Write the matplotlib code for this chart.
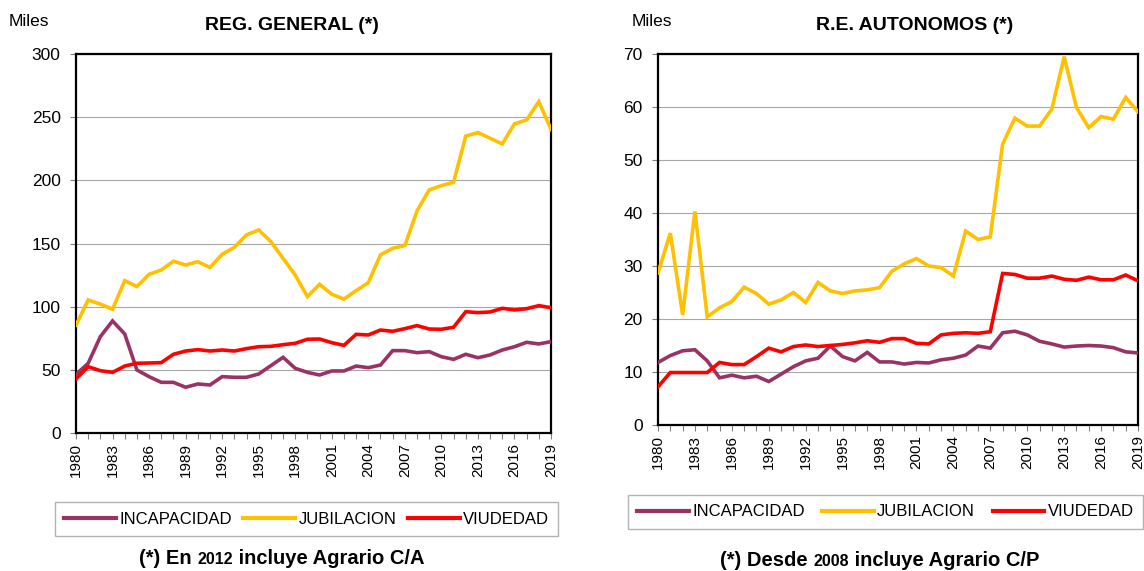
import numpy as np
import matplotlib
matplotlib.use('Agg')
import matplotlib.pyplot as plt

plt.rcParams['font.family'] = ['Liberation Sans', 'DejaVu Sans']

years = list(range(1980, 2020))
series_names = ['INCAPACIDAD', 'JUBILACION', 'VIUDEDAD']
colors = ['#993366', '#FFC000', '#FF0000']

# REG. GENERAL (miles)
incap_gen = [46.4, 55.2, 76.3, 88.7, 78.4, 49.9, 44.6, 40.1, 40.1, 36.2,
             38.8, 38.0, 44.6, 44.1, 44.1, 46.7, 53.3, 59.9, 51.2, 48.0,
             45.9, 49.1, 49.1, 53.0, 51.7, 53.8, 65.2, 65.2, 63.6, 64.4,
             60.4, 58.3, 62.3, 59.6, 61.8, 65.7, 68.3, 71.8, 70.5, 72.3]
jub_gen = [85.5, 105.3, 102.0, 98.0, 120.6, 115.9, 125.6, 129.0, 136.0, 133.0,
           135.6, 131.0, 141.5, 147.0, 156.8, 160.7, 151.5, 138.3, 125.0, 108.0,
           117.7, 109.8, 106.0, 112.7, 119.0, 141.0, 146.2, 148.3, 175.8, 192.4,
           195.8, 198.5, 235.0, 237.8, 233.3, 228.8, 244.7, 247.8, 262.3, 240.4]
viud_gen = [42.8, 52.5, 49.3, 48.0, 53.0, 55.2, 55.4, 55.7, 62.3, 64.9,
            66.0, 64.9, 65.7, 64.9, 66.8, 68.3, 68.6, 69.9, 71.0, 74.2,
            74.4, 71.5, 69.4, 78.1, 77.6, 81.5, 80.5, 82.6, 85.0, 82.3,
            82.1, 83.7, 96.0, 95.3, 95.8, 98.7, 97.4, 98.4, 100.8, 99.2]

# R.E. AUTONOMOS (miles)
incap_aut = [11.8, 13.1, 14.0, 14.2, 12.1, 8.9, 9.4, 8.9, 9.2, 8.2,
             9.6, 11.0, 12.1, 12.6, 14.9, 12.9, 12.1, 13.7, 11.9, 11.9,
             11.5, 11.8, 11.7, 12.3, 12.6, 13.2, 14.9, 14.5, 17.4, 17.7,
             17.0, 15.8, 15.3, 14.7, 14.9, 15.0, 14.9, 14.6, 13.8, 13.6]
jub_aut = [28.7, 36.2, 20.8, 40.3, 20.4, 22.1, 23.3, 26.0, 24.8, 22.8,
           23.6, 25.0, 23.1, 26.9, 25.3, 24.8, 25.3, 25.5, 25.9, 29.0,
           30.4, 31.4, 30.0, 29.7, 28.1, 36.6, 35.0, 35.5, 53.0, 57.9,
           56.4, 56.4, 59.6, 69.5, 59.9, 56.1, 58.2, 57.7, 61.8, 59.1]
viud_aut = [7.2, 9.9, 9.9, 9.9, 9.9, 11.8, 11.4, 11.4, 12.9, 14.5,
            13.8, 14.8, 15.1, 14.8, 15.0, 15.2, 15.5, 15.9, 15.6, 16.3,
            16.3, 15.4, 15.3, 17.0, 17.3, 17.4, 17.3, 17.6, 28.6, 28.4,
            27.7, 27.7, 28.1, 27.5, 27.3, 27.9, 27.4, 27.4, 28.3, 27.2]

W, H = 1144, 571


def px_box(x0, y0, x1, y1):
    return [x0 / W, 1 - y1 / H, (x1 - x0) / W, (y1 - y0) / H]


def draw_panel(ax, data, ymax, ystep):
    lines = []
    for vals, name, c in zip(data, series_names, colors):
        l, = ax.plot(years, vals, color=c, lw=2.6, label=name,
                     solid_joinstyle='miter', zorder=3)
        lines.append(l)
    ax.set_xlim(1980, 2019)
    ax.set_ylim(0, ymax)
    ax.set_yticks(np.arange(0, ymax + 1, ystep))
    ax.set_xticks(years)
    ax.set_xticklabels([str(y) if (y - 1980) % 3 == 0 else '' for y in years],
                       rotation=90, fontsize=11)
    ax.tick_params(axis='y', labelsize=12.5, length=4, pad=7, color='#808080')
    ax.tick_params(axis='x', length=4, pad=3, color='#808080')
    ax.grid(axis='y', color='#a6a6a6', lw=0.8)
    ax.set_axisbelow(True)
    for s in ax.spines.values():
        s.set_linewidth(1.6)
        s.set_color('black')
    return lines


def mixed_text(fig, xc, y, parts):
    # parts: list of (text, fontsize); drawn side by side, centred on xc (pixels)
    r = fig.canvas.get_renderer()
    texts = [fig.text(0, 1 - y / H, s, fontsize=fs, fontweight='bold', va='baseline')
             for s, fs in parts]
    widths = [t.get_window_extent(r).width for t in texts]
    x = xc - sum(widths) / 2
    for t, w in zip(texts, widths):
        t.set_x(x / W)
        x += w


fig = plt.figure(figsize=(W / 100, H / 100), dpi=100)

ax1 = fig.add_axes(px_box(76, 54, 551, 433))
lines = draw_panel(ax1, [incap_gen, jub_gen, viud_gen], 300, 50)

ax2 = fig.add_axes(px_box(658, 54, 1138, 425))
draw_panel(ax2, [incap_aut, jub_aut, viud_aut], 70, 10)

fig.text(29 / W, 1 - 21 / H, 'Miles', fontsize=12.5, ha='center', va='center')
fig.text(652 / W, 1 - 21 / H, 'Miles', fontsize=12.5, ha='center', va='center')
fig.text(292 / W, 1 - 25 / H, 'REG. GENERAL (*)', fontsize=14, fontweight='bold',
         ha='center', va='center')
fig.text(915 / W, 1 - 25 / H, 'R.E. AUTONOMOS (*)', fontsize=14, fontweight='bold',
         ha='center', va='center')

leg_kw = dict(ncol=3, fontsize=12, frameon=True, fancybox=False, edgecolor='#a0a0a0',
              handlelength=3.1, handletextpad=0.2, borderpad=0.55, borderaxespad=0,
              loc='center left')
l1 = fig.legend(lines, series_names, bbox_to_anchor=(55 / W, 1 - 519 / H),
                columnspacing=0.7, **leg_kw)
l2 = fig.legend(lines, series_names, bbox_to_anchor=(628 / W, 1 - 512 / H),
                columnspacing=1.05, **leg_kw)
for lg in (l1, l2):
    lg.get_frame().set_linewidth(1.0)
    for h in lg.legend_handles:
        h.set_linewidth(3)

mixed_text(fig, 282, 564, [('(*) En ', 14.5), ('2012', 11.5),
                           (' incluye Agrario C/A', 14.5)])
mixed_text(fig, 880, 566, [('(*) Desde ', 14.5), ('2008', 11.5),
                           (' incluye Agrario C/P', 14.5)])

fig.savefig('out.png', dpi=100)
